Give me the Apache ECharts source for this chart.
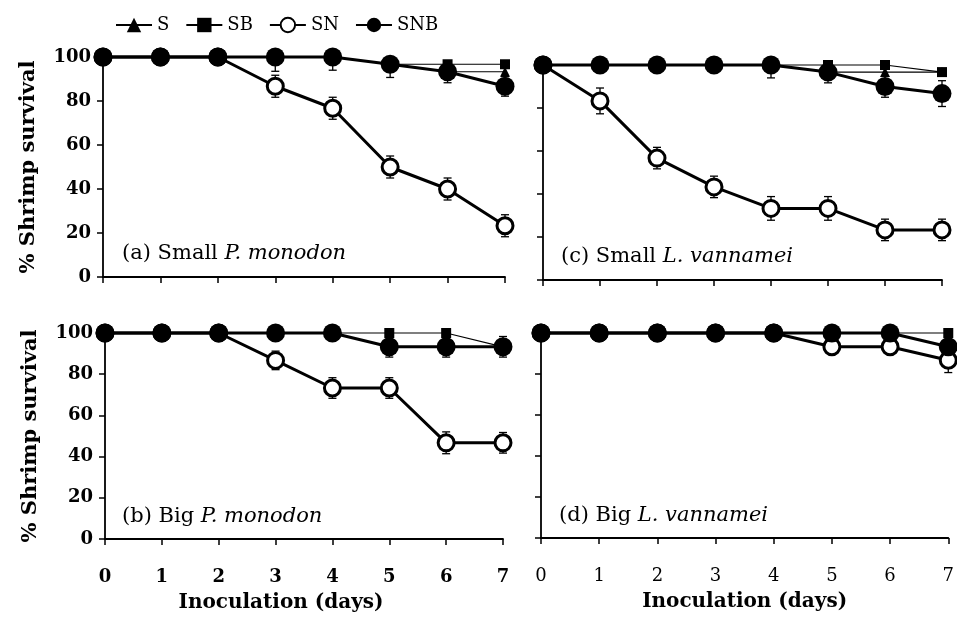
<!DOCTYPE html>
<html>
<head>
<meta charset="utf-8">
<script src="https://cdn.jsdelivr.net/npm/echarts@6/dist/echarts.min.js"></script>
<style>html,body{margin:0;padding:0;background:#fff}#c{width:957px;height:621px}</style>
</head>
<body>
<div id="c"></div>
<script>
// ---- data ----
const days = [0, 1, 2, 3, 4, 5, 6, 7];
const yTicks = [0, 20, 40, 60, 80, 100];
const seriesNames = ['S', 'SB', 'SN', 'SNB'];

// (a) Small P. monodon
const aS   = [100, 100, 100, 100, 100, 96.7, 93.3, 93.3];
const aSB  = [100, 100, 100, 100, 100, 96.7, 96.7, 96.7];
const aSN  = [100, 100, 100, 86.7, 76.7, 50, 40, 23.3];
const aSNB = [100, 100, 100, 100, 100, 96.7, 93.3, 86.7];
const aErrSN  = [0, 0, 0, 5, 5, 5, 5, 5];
const aErrSNB = [0, 0, 0, 6.5, 6, 6, 5, 4.5];

// (c) Small L. vannamei
const cS   = [100, 100, 100, 100, 100, 96.7, 96.7, 96.7];
const cSB  = [100, 100, 100, 100, 100, 100, 100, 96.7];
const cSN  = [100, 83.3, 56.7, 43.3, 33.3, 33.3, 23.3, 23.3];
const cSNB = [100, 100, 100, 100, 100, 96.7, 90, 86.7];
const cErrSN  = [0, 6, 5, 5, 5.5, 5.5, 5, 5];
const cErrSNB = [0, 0, 0, 0, 6, 5, 5, 6];

// (b) Big P. monodon
const bS   = [100, 100, 100, 100, 100, 93.3, 93.3, 93.3];
const bSB  = [100, 100, 100, 100, 100, 100, 100, 93.3];
const bSN  = [100, 100, 100, 86.7, 73.3, 73.3, 46.7, 46.7];
const bSNB = [100, 100, 100, 100, 100, 93.3, 93.3, 93.3];
const bErrSN  = [0, 0, 0, 4.5, 5, 5, 5.3, 5];
const bErrSNB = [0, 0, 0, 0, 0, 5, 5, 5];

// (d) Big L. vannamei
const dS   = [100, 100, 100, 100, 100, 100, 100, 93.3];
const dSB  = [100, 100, 100, 100, 100, 100, 100, 100];
const dSN  = [100, 100, 100, 100, 100, 93.3, 93.3, 86.7];
const dSNB = [100, 100, 100, 100, 100, 100, 100, 93.3];
const dErrSN  = [0, 0, 0, 0, 0, 0, 0, 6];
const dErrSNB = [0, 0, 0, 0, 0, 0, 0, 0];

const panelLabels = [
  ['(a) Small ', 'P. monodon'],
  ['(c) Small ', 'L. vannamei'],
  ['(b) Big ', 'P. monodon'],
  ['(d) Big ', 'L. vannamei']
];
const yTitle = '% Shrimp survival';
const xTitle = 'Inoculation (days)';

// ---- chart ----
const FONT = 'DejaVu Serif';
const chart = echarts.init(document.getElementById('c'));

const grids = [
  { left: 103, top: 57, width: 402, height: 220 },
  { left: 543, top: 65, width: 399, height: 215 },
  { left: 105, top: 333, width: 398, height: 206 },
  { left: 541, top: 333, width: 412, height: 205 }
];
const panels = [
  [aS, aSB, aSN, aSNB, aErrSN, aErrSNB],
  [cS, cSB, cSN, cSNB, cErrSN, cErrSNB],
  [bS, bSB, bSN, bSNB, bErrSN, bErrSNB],
  [dS, dSB, dSN, dSNB, dErrSN, dErrSNB]
];

const axisLineStyle = { color: '#000', width: 1.8 };

const xAxes = grids.map((g, i) => ({
  gridIndex: i, type: 'value', min: days[0], max: days[days.length - 1], interval: 1,
  axisLine: { show: true, onZero: false, lineStyle: axisLineStyle },
  axisTick: { show: true, length: 6, inside: false, lineStyle: { color: '#000', width: 1.5 } },
  splitLine: { show: false },
  axisLabel: {
    show: i >= 2, margin: 29, color: '#000', fontFamily: FONT, fontSize: 18,
    fontWeight: i === 2 ? 'bold' : 'normal'
  },
  name: i >= 2 ? xTitle : '', nameLocation: 'middle', nameGap: 54,
  nameTextStyle: {
    color: '#000', fontFamily: FONT, fontSize: 20, fontWeight: 'bold',
    padding: i === 2 ? [0, 46, 0, 0] : [0, 0, 0, 0]
  }
}));

const yAxes = grids.map((g, i) => ({
  gridIndex: i, type: 'value', min: yTicks[0], max: yTicks[yTicks.length - 1], interval: 20,
  axisLine: { show: true, onZero: false, lineStyle: axisLineStyle },
  axisTick: { show: true, length: 6, inside: false, lineStyle: { color: '#000', width: 1.5 } },
  splitLine: { show: false },
  axisLabel: {
    show: i % 2 === 0, margin: 12, color: '#000', fontFamily: FONT, fontSize: 18, fontWeight: 'bold'
  },
  name: i % 2 === 0 ? yTitle : '', nameLocation: 'middle', nameGap: 64,
  nameTextStyle: { color: '#000', fontFamily: FONT, fontSize: 21, fontWeight: 'bold' }
}));

const styles = {
  S:   { symbol: 'triangle', symbolSize: 10, lineWidth: 1.2, itemStyle: { color: '#000' } },
  SB:  { symbol: 'rect', symbolSize: 10, lineWidth: 1.2, itemStyle: { color: '#000' } },
  SN:  { symbol: 'circle', symbolSize: 16, lineWidth: 3, itemStyle: { color: '#fff', borderColor: '#000', borderWidth: 3 } },
  SNB: { symbol: 'circle', symbolSize: 19, lineWidth: 3, itemStyle: { color: '#000', borderColor: '#000', borderWidth: 0 } }
};

function renderErr(params, api) {
  const x = api.value(0), v = api.value(1), e = api.value(2);
  if (!e) return null;
  const lo = api.coord([x, v - e]);
  const hi = api.coord([x, Math.min(100, v + e)]);
  const cap = 4;
  const st = { stroke: '#000', lineWidth: 1.3 };
  return {
    type: 'group',
    children: [
      { type: 'line', shape: { x1: lo[0], y1: lo[1], x2: hi[0], y2: hi[1] }, style: st },
      { type: 'line', shape: { x1: lo[0] - cap, y1: lo[1], x2: lo[0] + cap, y2: lo[1] }, style: st },
      { type: 'line', shape: { x1: hi[0] - cap, y1: hi[1], x2: hi[0] + cap, y2: hi[1] }, style: st }
    ]
  };
}

const series = [];
panels.forEach((p, gi) => {
  // error bars (behind markers)
  [[p[2], p[4], 'errSN'], [p[3], p[5], 'errSNB']].forEach(([vals, errs, nm]) => {
    series.push({
      type: 'custom', name: nm + gi, xAxisIndex: gi, yAxisIndex: gi, z: 1,
      renderItem: renderErr, encode: { x: 0, y: 1 },
      data: days.map((d, k) => [d, vals[k], errs[k]])
    });
  });
  seriesNames.forEach((nm, si) => {
    const s = styles[nm];
    series.push({
      type: 'line', name: nm, xAxisIndex: gi, yAxisIndex: gi, z: 2 + si,
      symbol: s.symbol, symbolSize: s.symbolSize, showAllSymbol: true,
      lineStyle: { color: '#000', width: s.lineWidth },
      itemStyle: s.itemStyle,
      emphasis: { disabled: true }, animation: false, clip: false,
      data: days.map((d, k) => [d, p[si][k]])
    });
  });
});

const titlePos = [
  { left: 122, top: 243 },
  { left: 561, top: 246 },
  { left: 122, top: 506 },
  { left: 559, top: 505 }
];
const titles = panelLabels.map((lb, i) => ({
  left: titlePos[i].left, top: titlePos[i].top, padding: 0,
  text: '{n|' + lb[0] + '}{i|' + lb[1] + '}',
  textStyle: {
    rich: {
      n: { fontFamily: FONT, fontSize: 21, color: '#000', fontWeight: 'normal' },
      i: { fontFamily: FONT, fontSize: 21, color: '#000', fontStyle: 'italic', fontWeight: 'normal' }
    }
  }
}));

const legendSymbolSize = { S: 10, SB: 10, SN: 14, SNB: 16 };

chart.setOption({
  animation: false,
  backgroundColor: '#fff',
  title: titles,
  legend: {
    data: seriesNames.map(n => ({ name: n, itemStyle: { } })),
    left: 110, top: 11, itemWidth: 36, itemHeight: 18, itemGap: 16,
    textStyle: { fontFamily: FONT, fontSize: 18, color: '#000' }
  },
  grid: grids,
  xAxis: xAxes,
  yAxis: yAxes,
  series: series
});
</script>
</body>
</html>
